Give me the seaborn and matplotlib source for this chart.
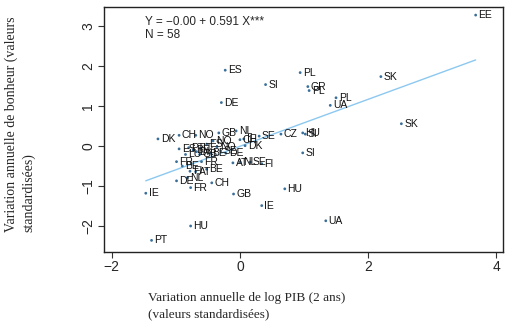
import matplotlib
matplotlib.use("Agg")
import matplotlib.pyplot as plt
import seaborn as sns
import pandas as pd

countries = ["EE", "ES", "SI", "DE", "PL", "GR", "PL", "PL", "UA", "SK",
             "SK", "CZ", "HU", "SI", "SI", "HU", "UA", "DK", "CH", "NO",
             "GB", "NL", "CH", "IE", "SE", "ES", "PT", "BE", "DK", "BE",
             "ES", "NO", "NO", "DE", "DK", "FR", "FR", "AT", "NL", "SE",
             "FI", "BE", "FI", "AT", "BE", "DE", "NL", "FR", "CH", "IE",
             "GB", "IE", "HU", "PT", "IT", "GB", "LU", "SE"]
gdp = [3.68, -0.23, 0.40, -0.29, 0.94, 1.06, 1.08, 1.50, 1.41, 2.20,
       2.52, 0.64, 0.98, 1.02, 0.98, 0.70, 1.34, -1.28, -0.95, -0.69,
       -0.33, -0.06, 0.00, 0.06, 0.30, -0.95, -0.80, -0.73, -0.68, -0.47,
       -0.52, -0.42, -0.36, -0.22, 0.08, -0.99, -0.60, -0.11, 0.00, 0.16,
       0.34, -0.90, -0.78, -0.69, -0.52, -0.99, -0.82, -0.77, -0.44, -1.47,
       -0.10, 0.34, -0.77, -1.38, -0.62, -0.63, -0.85, -0.30]
happy = [3.27, 1.89, 1.53, 1.08, 1.83, 1.48, 1.38, 1.20, 1.01, 1.73,
         0.55, 0.29, 0.32, 0.29, -0.18, -1.08, -1.88, 0.17, 0.26, 0.26,
         0.32, 0.37, 0.15, 0.17, 0.24, -0.08, -0.05, -0.11, -0.15, -0.19,
         0.04, 0.12, -0.03, -0.19, 0.00, -0.40, -0.40, -0.43, -0.41, -0.41,
         -0.45, -0.51, -0.64, -0.65, -0.59, -0.88, -0.80, -1.05, -0.93, -1.19,
         -1.21, -1.50, -2.01, -2.37, -0.06, -0.22, -0.22, -0.13]

xticks = [-2, 0, 2, 4]
yticks = [-2, -1, 0, 1, 2, 3]
equation = "Y = \u22120.00 + 0.591 X***"
n_text = "N = 58"
xlabel = "Variation annuelle de log PIB (2 ans)\n(valeurs standardisées)"
ylabel = "Variation annuelle de bonheur (valeurs\nstandardisées)"

df = pd.DataFrame({"country": countries, "gdp": gdp, "happy": happy})

sns.set_theme(style="ticks")
plt.rcParams["font.family"] = ["Liberation Sans", "DejaVu Sans"]

fig = plt.figure(figsize=(5.14, 3.23), dpi=100)
ax = fig.add_axes([0.202, 0.220, 0.777, 0.758])

sns.regplot(data=df, x="gdp", y="happy", scatter=False, ci=None,
            color="#8cc8f0", line_kws={"linewidth": 1.0}, ax=ax)
sns.scatterplot(data=df, x="gdp", y="happy", s=4, color="#3a6f9a",
                edgecolor="none", ax=ax, zorder=3)

for c, xv, yv in zip(df["country"], df["gdp"], df["happy"]):
    ax.annotate(c, (xv, yv), xytext=(2, 0), textcoords="offset points",
                va="center", ha="left", fontsize=7.5, color="#111111")

ax.text(0.103, 0.962, equation, transform=ax.transAxes, va="top",
        ha="left", fontsize=8.5)
ax.text(0.103, 0.912, n_text, transform=ax.transAxes, va="top",
        ha="left", fontsize=8.5)

ax.set_xlim(-2.125, 4.11)
ax.set_ylim(-2.66, 3.47)
ax.set_xticks(xticks)
ax.set_yticks(yticks)
ax.set_xticklabels([str(t).replace("-", "\u2212") for t in xticks], fontsize=10)
ax.set_yticklabels([str(t).replace("-", "\u2212") for t in yticks], fontsize=10,
                   rotation=90, va="center")
ax.tick_params(length=4, width=0.8, color="#333333", pad=2)
for s in ax.spines.values():
    s.set_linewidth(1.0)
    s.set_color("#222222")
ax.set_xlabel("")
ax.set_ylabel("")

fig.text(148 / 514, 1 - 292 / 323, xlabel, family="Liberation Serif",
         fontsize=9.5, ha="left", va="top", linespacing=1.45)
fig.text(5 / 514, 1 - 232 / 323, ylabel, family="Liberation Serif",
         fontsize=10, ha="left", va="bottom", rotation=90, linespacing=1.35,
         multialignment="left")

fig.savefig("out.png", dpi=100)
